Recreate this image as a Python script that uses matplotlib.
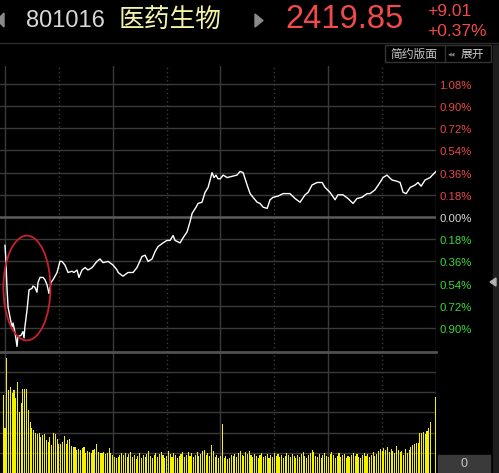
import matplotlib.pyplot as plt
from matplotlib.patches import Ellipse, Rectangle, Polygon
from matplotlib.lines import Line2D
import matplotlib.transforms as mtransforms

# ---- data ----
code = "801016"
name = "医药生物"
last_price = "2419.85"
change = "+9.01"
change_pct = "+0.37%"

# minute since open, % change vs previous close
minutes = [0, 0.5, 1.1, 1.7, 3.3, 3.9, 4.5, 5.6, 6.7, 7.2, 8.9, 10.0, 10.6, 11.1, 12.3, 13.4,
           15.0, 15.6, 16.7, 17.8, 18.4, 19.5, 21.2, 22.3, 23.4, 24.5, 25.6, 26.7, 29.0, 30.6,
           31.7, 33.4, 35.1, 37.3, 38.4, 40.1, 41.2, 42.9, 44.6, 46.2, 48.5, 51.2, 52.9, 54.6,
           57.4, 60.2, 62.4, 63.0, 65.7, 68.5, 71.3, 73.5, 76.3, 78.0, 79.7, 81.9, 83.6, 85.2,
           88.0, 90.2, 91.9, 93.6, 94.7, 97.5, 99.1, 101.4, 103.0, 104.2, 106.4, 107.5, 109.7,
           111.4, 113.1, 114.2, 115.3, 116.4, 117.5, 118.6, 119.8, 121.5, 123.7, 126.4, 129.2,
           130.9, 132.6, 134.8, 136.5, 138.1, 140.4, 142.0, 143.7, 146.0, 147.6, 149.3, 152.1,
           154.9, 158.7, 161.5, 164.3, 167.1, 168.8, 171.0, 173.8, 176.6, 178.2, 181.0, 183.8,
           185.4, 188.2, 191.0, 193.8, 196.0, 198.8, 201.6, 203.3, 206.0, 208.8, 210.5, 212.7,
           215.5, 218.3, 220.0, 221.7, 223.4, 225.6, 228.4, 230.0, 231.7, 233.9, 236.7, 240]
pct = [-0.23, -0.35, -0.57, -0.73, -0.85, -0.89, -0.86, -0.94, -1.05, -0.97, -0.96, -0.93, -0.98,
       -0.89, -0.75, -0.59, -0.58, -0.56, -0.57, -0.61, -0.53, -0.49, -0.49, -0.51, -0.55, -0.62,
       -0.53, -0.51, -0.45, -0.36, -0.36, -0.39, -0.45, -0.44, -0.45, -0.43, -0.49, -0.43, -0.41,
       -0.43, -0.41, -0.36, -0.34, -0.37, -0.36, -0.39, -0.43, -0.45, -0.48, -0.45, -0.45, -0.41,
       -0.32, -0.31, -0.36, -0.34, -0.28, -0.24, -0.21, -0.19, -0.19, -0.15, -0.19, -0.21, -0.17,
       -0.12, -0.04, 0.03, 0.08, 0.11, 0.12, 0.20, 0.24, 0.30, 0.36, 0.32, 0.34, 0.31, 0.31,
       0.34, 0.32, 0.33, 0.34, 0.37, 0.36, 0.26, 0.19, 0.16, 0.12, 0.11, 0.08, 0.07, 0.14, 0.16,
       0.17, 0.19, 0.19, 0.15, 0.12, 0.18, 0.20, 0.26, 0.28, 0.28, 0.24, 0.20, 0.14, 0.18, 0.18,
       0.15, 0.11, 0.15, 0.16, 0.19, 0.19, 0.22, 0.28, 0.32, 0.34, 0.30, 0.29, 0.28, 0.20, 0.19,
       0.24, 0.26, 0.28, 0.25, 0.30, 0.32, 0.37]

# volume per minute, minute -1 (auction) .. 240
volume = [78, 45, 115, 83, 86, 80, 83, 75, 91, 61, 70, 84, 84, 84, 63, 51, 45, 43, 40, 39,
          40, 36, 38, 39, 33, 31, 36, 28, 40, 39, 34, 29, 29, 31, 37, 29, 33, 34, 27, 26,
          26, 23, 24, 23, 25, 26, 20, 22, 21, 20, 23, 24, 29, 21, 20, 20, 21, 19, 20, 25,
          20, 18, 16, 15, 16,
          18, 20, 18, 20, 16, 19, 21, 16, 18, 14, 17, 20, 15, 18, 16, 19, 22, 17, 15, 18, 20, 16, 19,
          21, 18, 15, 17, 22, 19, 16, 20, 18, 15, 17, 19, 21, 16, 18,
          21, 17, 20, 16, 18, 21, 17, 19, 22, 23, 18, 20, 17, 28, 22, 16, 18, 15, 17,
          49,
          15, 17, 14, 15, 18, 17, 19, 16, 20, 22, 18, 17, 21, 19, 22,
          18, 16, 19, 17, 15, 18, 20, 16, 17, 19, 15, 18, 16, 20, 17, 19, 16, 18, 15, 17, 20, 18,
          16, 19, 17, 15, 18, 16, 19, 21, 17, 15, 18, 20, 23,
          21, 17, 16, 19, 15, 18, 20, 17, 16, 19, 21, 18, 15, 17, 20, 16, 18, 19, 15, 17, 16, 18,
          20, 17, 19, 16, 15, 18, 20, 17, 19, 16, 18, 21, 17, 19, 22,
          24, 22, 25, 23, 26, 21, 24, 22, 20, 27, 23, 21, 22, 18, 24, 20, 23,
          26, 28, 29, 30, 30, 40, 40, 41, 39, 42, 45, 51, 0, 0, 76]
vol_minutes = list(range(-1, len(volume) - 1))

levels = [1.08, 0.90, 0.72, 0.54, 0.36, 0.18, 0.00, -0.18, -0.36, -0.54, -0.72, -0.90]
level_labels = ["1.08%", "0.90%", "0.72%", "0.54%", "0.36%", "0.18%", "0.00%",
                "0.18%", "0.36%", "0.54%", "0.72%", "0.90%"]

# ---- figure ----
W, H = 499, 473
fig = plt.figure(figsize=(W / 100, H / 100), dpi=100, facecolor="black")


def box(x0, y0, x1, y1):
    return [x0 / W, 1 - y1 / H, (x1 - x0) / W, (y1 - y0) / H]


def fx(x):
    return x / W


def fy(y):
    return 1 - y / H


grid_c = "#3a3a3a"
xmin, xmax = -2.78, 240

ax = fig.add_axes(box(0, 66, 436, 352))
ax.set_facecolor("black")
ax.set_xlim(xmin, xmax)
ax.set_ylim(-1.095, 1.225)
ax.axis("off")

ax2 = fig.add_axes(box(0, 352, 436, 473))
ax2.set_facecolor("black")
ax2.set_xlim(xmin, xmax)
ax2.set_ylim(0, 121)
ax2.axis("off")

for a in (ax, ax2):
    for m in (0, 60, 120, 180, 240):
        a.axvline(m, color=grid_c, lw=1, zorder=0)
    for m in (30, 90, 150, 210):
        a.axvline(m, color=grid_c, lw=1, ls=(0, (1, 2)), zorder=0)

for lv in levels:
    if lv == 0:
        ax.axhline(lv, color="#5c5c5c", lw=1.8, zorder=0)
    else:
        ax.axhline(lv, color=grid_c, lw=1, zorder=0)

for v in (20.2, 40.4, 60.6, 80.8, 101):
    ax2.axhline(v, color=grid_c, lw=1, zorder=0)

ax.plot(minutes, pct, color="white", lw=1.0, zorder=3)
ax2.bar(vol_minutes, volume, width=0.6, color="#f2f200", zorder=2)

ax.add_patch(Ellipse((12.2, -0.576), 26.2, 0.85, fill=False, ec="#c8202c", lw=1.3, zorder=4))

trans = mtransforms.blended_transform_factory(ax.transAxes, ax.transData)
for lv, lab in zip(levels, level_labels):
    if lv > 0:
        c = "#e84848"
    elif lv < 0:
        c = "#3cd83c"
    else:
        c = "#d8d8d8"
    ax.text(1.008, lv - 0.016, lab, transform=trans, color=c, fontsize=8.2,
            family="Liberation Sans", va="center", ha="left")

# separator between price and volume
fig.add_artist(Line2D([0, fx(436)], [fy(352), fy(352)], color="#505050", lw=2))

# ---- header ----
fig.add_artist(Line2D([0, 1], [fy(43), fy(43)], color="#2c2c2c", lw=1))
fig.add_artist(Polygon([[fx(4), fy(13)], [fx(-3), fy(20)], [fx(4), fy(27)]], closed=True,
                       color="#8a8a8a", transform=fig.transFigure))
fig.add_artist(Polygon([[fx(255), fy(14)], [fx(263), fy(20.5)], [fx(255), fy(27)]], closed=True,
                       color="#8a8a8a", transform=fig.transFigure))
fig.text(fx(26), fy(21), code, color="#d8d8d8", fontsize=17, family="Liberation Sans",
         va="center", ha="left")
fig.text(fx(119), fy(20), name, color="#f4f4a6", fontsize=18.5, family="Noto Sans CJK SC",
         va="center", ha="left")
fig.text(fx(285), fy(20), last_price, color="#f04a4a", fontsize=23.5, family="Liberation Sans",
         va="center", ha="left")
fig.text(fx(427), fy(11), change, color="#f04a4a", fontsize=12.5, family="Liberation Sans",
         va="center", ha="left")
fig.text(fx(427), fy(31), change_pct, color="#f04a4a", fontsize=12.5, family="Liberation Sans",
         va="center", ha="left")

# layout buttons
fig.add_artist(Rectangle((fx(385), fy(62)), (491 - 385) / W, 17 / H, fill=False, ec="#333333",
                         lw=1, transform=fig.transFigure))
fig.add_artist(Line2D([fx(445), fx(445)], [fy(62), fy(45)], color="#333333", lw=1))
fig.text(fx(390), fy(54), "简约版面", color="#c8c8c8", fontsize=8.5, family="Noto Sans CJK SC",
         va="center", ha="left")
fig.text(fx(448), fy(54), "◀◀", color="#808080", fontsize=3.5, family="DejaVu Sans",
         va="center", ha="left")
fig.text(fx(461), fy(54), "展开", color="#c8c8c8", fontsize=8.5, family="Noto Sans CJK SC",
         va="center", ha="left")

# right scrollbar strip
fig.add_artist(Rectangle((fx(493), 0), 6 / W, fy(45), color="#1e1e1e", transform=fig.transFigure))
fig.add_artist(Polygon([[fx(496), fy(278)], [fx(490), fy(282)], [fx(496), fy(286)]], closed=True,
                       color="#b0b0b0", transform=fig.transFigure))

# volume label box
fig.add_artist(Rectangle((fx(438), 0), 52 / W, 18 / H, color="#3a3a3a", transform=fig.transFigure))
fig.text(fx(464), fy(464), "0", color="#c8c8c8", fontsize=9, family="Liberation Sans",
         va="center", ha="center")

fig.savefig("out.png", dpi=100, facecolor="black")
